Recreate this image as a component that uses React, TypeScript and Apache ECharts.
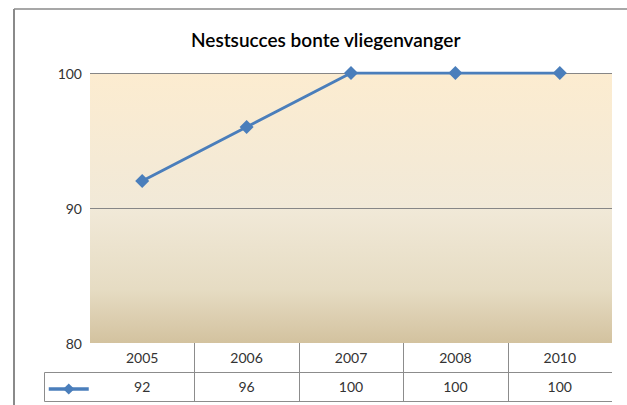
import React, { useEffect, useRef } from "react";
import * as echarts from "echarts";

const titleText = "Nestsucces bonte vliegenvanger";
const years = ["2005", "2006", "2007", "2008", "2010"];
const nestSuccess = [92, 96, 100, 100, 100];
const yMin = 80;
const yMax = 100;
const yStep = 10;

const GRID_LEFT = 90;
const GRID_RIGHT = 15;
const GRID_TOP = 73;
const GRID_BOTTOM = 62;
const W = 627;
const H = 405;

export default function App() {
  const ref = useRef<HTMLDivElement>(null);
  useEffect(() => {
    if (!ref.current) return;
    const chart = echarts.init(ref.current, null, { renderer: "svg" });
    const font = "Lato, 'Open Sans', sans-serif";
    const gridW = W - GRID_LEFT - GRID_RIGHT;
    const band = gridW / years.length;
    const plotBottom = H - GRID_BOTTOM;
    const rowLine = plotBottom + 29.5;
    const tableBottom = plotBottom + 58.5;
    const lineColor = "#8c8c8c";
    const graphics: any[] = [];
    graphics.push({ type: "line", shape: { x1: 14, y1: 9, x2: 14, y2: H }, style: { stroke: "#8a8a8a", lineWidth: 2 } });
    graphics.push({ type: "line", shape: { x1: 14, y1: 9, x2: W, y2: 9 }, style: { stroke: "#8a8a8a", lineWidth: 1.5 } });
    graphics.push({ type: "line", shape: { x1: 44.5, y1: rowLine, x2: W - GRID_RIGHT, y2: rowLine }, style: { stroke: lineColor, lineWidth: 1 } });
    graphics.push({ type: "line", shape: { x1: 44.5, y1: tableBottom, x2: W - GRID_RIGHT, y2: tableBottom }, style: { stroke: lineColor, lineWidth: 1 } });
    graphics.push({ type: "line", shape: { x1: 44.5, y1: rowLine, x2: 44.5, y2: tableBottom }, style: { stroke: lineColor, lineWidth: 1 } });
    for (let i = 1; i < years.length; i++) {
      const x = Math.round(GRID_LEFT + band * i) + 0.5;
      graphics.push({ type: "line", shape: { x1: x, y1: plotBottom, x2: x, y2: tableBottom }, style: { stroke: lineColor, lineWidth: 1 } });
    }

    chart.setOption({
      animation: false,
      backgroundColor: "#ffffff",
      title: {
        text: titleText,
        left: 186,
        top: 25,
        textStyle: { fontFamily: font, fontSize: 19, fontWeight: 600, color: "#000" },
      },
      legend: {
        show: true,
        left: 42,
        top: plotBottom + 34,
        itemWidth: 40,
        itemHeight: 14,
        formatter: () => "",
        selectedMode: false,
        lineStyle: { width: 3.5 },
        data: ["Nestsucces"],
      },
      grid: {
        left: GRID_LEFT,
        right: GRID_RIGHT,
        top: GRID_TOP,
        bottom: GRID_BOTTOM,
        show: true,
        borderWidth: 0,
        backgroundColor: new echarts.graphic.LinearGradient(0, 0, 0, 1, [
          { offset: 0, color: "#fcecd0" },
          { offset: 0.5, color: "#f1e9d8" },
          { offset: 0.8, color: "#e6dcc3" },
          { offset: 1, color: "#d3c29f" },
        ]),
      },
      xAxis: [
        {
          type: "category",
          data: years,
          boundaryGap: true,
          axisLine: { show: false },
          axisTick: { show: false },
          axisLabel: { margin: 14, verticalAlign: "middle", fontFamily: font, fontSize: 14, color: "#333" },
        },
        {
          type: "category",
          data: nestSuccess.map(String),
          position: "bottom",
          offset: 29.5,
          boundaryGap: true,
          axisLine: { show: false },
          axisTick: { show: false },
          axisLabel: { margin: 14, verticalAlign: "middle", fontFamily: font, fontSize: 14, color: "#333" },
        },
      ],
      yAxis: {
        type: "value",
        min: yMin,
        max: yMax,
        interval: yStep,
        axisLine: { show: false },
        axisTick: { show: false },
        axisLabel: { margin: 8, fontFamily: font, fontSize: 14, color: "#333" },
        splitLine: { show: true, lineStyle: { color: ["rgba(0,0,0,0)", "#868686", "#868686"], width: 1 } },
      },
      series: [
        {
          name: "Nestsucces",
          type: "line",
          xAxisIndex: 0,
          data: nestSuccess,
          symbol: "diamond",
          symbolSize: 14,
          lineStyle: { color: "#4a7ebb", width: 3 },
          itemStyle: { color: "#4a7ebb" },
        },
      ],
      graphic: graphics,
    });
    return () => chart.dispose();
  }, []);
  return <div ref={ref} style={{ width: W, height: H, position: "absolute", left: 0, top: 0 }} />;
}
